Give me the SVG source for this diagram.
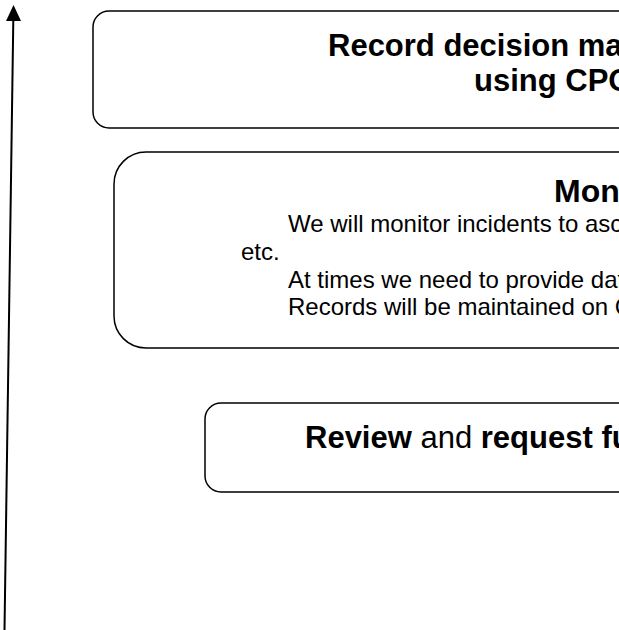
<svg xmlns="http://www.w3.org/2000/svg" width="619" height="630" viewBox="0 0 619 630">
<style>
.box{fill:#fff;stroke:#000;stroke-width:1.5}
.t{font-family:"Liberation Sans",Arial,sans-serif;fill:#000}
.b{font-weight:bold}
.title{font-size:31px}
.body{font-size:24px}
</style>
<rect width="619" height="630" fill="#fff"/>
<g id="connectors">
<line x1="4.5" y1="630" x2="13.3" y2="20" stroke="#000" stroke-width="2"/>
<path d="M13.5,5 L21,21 L6,21 Z" fill="#000"/>
</g>
<g id="node-record">
<rect class="box" x="93" y="11" width="560" height="117" rx="16"/>
<text class="t b title" x="328" y="56">Record decision ma</text>
<text class="t b title" x="474" y="91">using CPO</text>
</g>
<g id="node-monitor">
<rect class="box" x="114" y="152" width="560" height="196" rx="32"/>
<text class="t b" x="554" y="202" style="font-size:32px">Mon</text>
<text class="t body" x="288" y="232">We will monitor incidents to asc</text>
<text class="t body" x="241" y="260">etc.</text>
<text class="t body" x="288" y="288">At times we need to provide dat</text>
<text class="t body" x="288" y="315">Records will be maintained on C</text>
</g>
<g id="node-review">
<rect class="box" x="205" y="403" width="460" height="89" rx="16"/>
<text class="t title" x="305" y="448"><tspan class="b">Review</tspan> and <tspan class="b">request fu</tspan></text>
</g>
</svg>
